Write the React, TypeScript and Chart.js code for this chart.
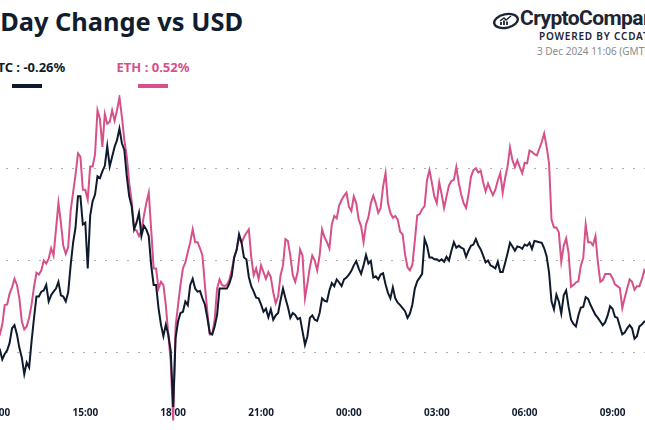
import React, { useEffect, useRef } from "react";
import { Chart, registerables } from "chart.js";

Chart.register(...registerables);

// Time axis: points every 5 minutes starting 11:10 (hours since 00:00 of day 1)
const startHour = 11 + 10 / 60;
const stepMinutes = 5;

// 1-day % change vs USD
const btcValues = [
  0.0, -0.14, -0.25, -0.36, -0.46, -0.57, -0.68, -0.63, -0.57, -0.65,
  -0.73, -0.71, -0.87, -0.78, -0.72, -0.6, -0.36, -0.31, -0.46, -0.68,
  -0.84, -1.11, -0.92, -1.0, -0.57, -0.19, 0.16, 0.16, 0.24, 0.26,
  0.35, 0.08, 0.18, 0.24, 0.29, 0.4, 0.18, 0.16, 0.08, 0.23,
  0.67, 1.04, 1.29, 1.8, 1.8, 1.34, 1.37, 0.62, 1.48, 1.72,
  1.83, 2.13, 2.1, 2.21, 2.3, 2.62, 2.29, 2.45, 2.61, 2.72,
  2.91, 2.67, 2.56, 2.13, 1.8, 1.64, 1.26, 1.37, 1.53, 1.15,
  1.32, 1.26, 1.15, 0.67, 0.35, 0.35, -0.03, -0.3, -0.49, -0.3,
  -0.46, -0.73, -1.65, -0.52, -0.25, -0.11, -0.09, 0.08, 0.02, 0.35,
  0.45, 0.29, 0.24, 0.25, 0.13, 0.03, -0.19, -0.44, -0.46, -0.33,
  -0.14, 0.29, 0.29, 0.29, 0.29, 0.37, 0.5, 0.8, 0.92, 1.18,
  1.05, 0.8, 0.77, 0.48, 0.33, 0.24, 0.14, 0.13, 0.03, -0.09,
  -0.04, -0.18, -0.05, -0.22, -0.15, -0.11, 0.1, 0.29, 0.13, -0.01,
  -0.19, -0.11, -0.14, -0.21, -0.19, -0.41, -0.63, -0.49, -0.19, -0.15,
  -0.22, -0.24, -0.11, 0.13, 0.09, 0.08, 0.26, 0.38, 0.33, 0.44,
  0.39, 0.33, 0.44, 0.47, 0.52, 0.58, 0.67, 0.74, 0.62, 0.53,
  0.67, 0.84, 0.7, 0.74, 0.47, 0.49, 0.44, 0.52, 0.54, 0.36,
  0.22, 0.13, 0.31, 0.13, 0.06, 0.02, -0.03, -0.08, -0.19, -0.12,
  0.03, 0.29, 0.41, 0.47, 0.53, 1.1, 0.99, 0.8, 0.8, 0.77,
  0.77, 0.74, 0.77, 0.73, 0.81, 0.75, 0.91, 1.05, 0.96, 0.99,
  0.96, 0.94, 0.81, 0.91, 0.99, 1.01, 1.1, 1.0, 0.93, 0.83,
  0.72, 0.75, 0.67, 0.65, 0.62, 0.73, 0.56, 0.56, 0.71, 0.87,
  1.04, 0.98, 0.91, 0.98, 0.97, 0.94, 1.01, 0.99, 1.04, 0.94,
  1.07, 1.06, 1.05, 1.04, 0.95, 0.82, 0.55, 0.08, -0.05, 0.19,
  0.08, -0.12, 0.18, 0.26, -0.01, -0.22, -0.29, -0.33, -0.15, -0.02,
  -0.01, 0.15, 0.12, 0.02, -0.06, -0.14, -0.19, -0.25, -0.31, -0.26,
  -0.15, 0.0, -0.04, -0.17, -0.19, -0.33, -0.46, -0.43, -0.36, -0.31,
  -0.36, -0.53, -0.49, -0.33, -0.3, -0.25, -0.25, -0.19, -0.19, -0.25,
  -0.28, -0.22, -0.25, -0.19, -0.22, -0.28, -0.25, -0.24, -0.26,
];

const ethValues = [
  0.0, -0.09, -0.14, -0.19, -0.25, -0.14, -0.19, -0.25, -0.3, -0.36,
  -0.41, -0.46, -0.3, 0.02, 0.03, 0.21, 0.31, 0.45, 0.35, 0.13,
  -0.25, -0.38, -0.33, -0.19, 0.03, 0.32, 0.55, 0.52, 0.59, 0.75,
  0.7, 0.78, 0.95, 0.83, 1.26, 1.69, 1.37, 0.99, 0.86, 0.97,
  1.56, 1.86, 2.15, 2.5, 2.45, 1.91, 1.91, 1.75, 2.29, 2.29,
  2.49, 3.21, 3.07, 2.61, 3.15, 2.99, 3.02, 3.21, 3.04, 3.21,
  3.42, 3.1, 2.72, 2.45, 2.02, 1.72, 1.26, 1.24, 1.15, 1.24,
  1.48, 1.69, 1.86, 1.26, 0.62, 0.62, 0.29, 0.4, 0.35, 0.02,
  -0.46, -0.9, -1.87, -0.33, 0.02, 0.35, 0.62, 0.72, 0.89, 1.05,
  1.26, 1.05, 1.05, 0.95, 0.83, 0.35, -0.09, -0.46, -0.46, -0.22,
  0.29, 0.44, 0.35, 0.33, 0.35, 0.43, 0.6, 0.8, 0.93, 1.13,
  1.04, 1.13, 1.2, 1.26, 0.8, 0.51, 0.62, 0.45, 0.67, 0.56,
  0.45, 0.56, 0.48, 0.23, 0.05, 0.16, 0.51, 0.67, 1.1, 1.07,
  0.83, 0.51, 0.4, 0.56, 0.93, 0.83, 0.13, 0.37, 0.64, 0.83,
  0.75, 0.59, 0.83, 1.26, 1.13, 1.05, 0.95, 1.34, 1.48, 1.44,
  1.65, 1.74, 1.81, 1.86, 1.63, 1.56, 1.8, 1.69, 1.42, 1.31,
  1.05, 1.34, 1.46, 1.69, 1.81, 1.69, 1.53, 1.61, 1.96, 2.18,
  1.69, 1.53, 1.45, 1.48, 1.42, 1.22, 1.18, 0.85, 0.64, 0.59,
  0.68, 1.07, 1.49, 1.51, 1.59, 1.64, 2.07, 2.23, 2.02, 1.8,
  1.69, 2.03, 1.83, 1.61, 1.8, 1.98, 2.05, 2.07, 2.28, 2.02,
  1.83, 1.69, 1.61, 1.83, 2.12, 2.23, 2.26, 2.19, 2.22, 2.03,
  1.88, 2.01, 1.91, 1.82, 1.91, 2.06, 2.18, 1.86, 2.1, 2.29,
  2.6, 2.39, 2.28, 2.39, 2.28, 2.18, 2.35, 2.34, 2.55, 2.53,
  2.49, 2.47, 2.58, 2.69, 2.83, 2.61, 2.34, 1.42, 1.29, 1.29,
  1.21, 0.73, 0.99, 1.11, 0.87, 0.32, 0.35, 0.39, 0.41, 0.66,
  0.79, 1.34, 1.05, 1.05, 1.0, 1.15, 0.72, 0.4, 0.43, 0.53,
  0.53, 0.53, 0.46, 0.36, 0.33, 0.3, -0.03, 0.14, 0.29, 0.44,
  0.4, 0.27, 0.33, 0.33, 0.44, 0.59, 0.51, 0.56, 0.56, 0.48,
  0.45, 0.51, 0.51, 0.56, 0.59, 0.53, 0.53, 0.51, 0.52,
];

const seriesNames = ["BTC", "ETH"];
const seriesChanges = ["-0.26%", "0.52%"];
const seriesColors = ["#0f1b2d", "#d6508a"];

const tickHours = [12, 15, 18, 21, 24, 27, 30, 33];
const tickLabels = ["12:00", "15:00", "18:00", "21:00", "00:00", "03:00", "06:00", "09:00"];
const gridValues = [-0.75, 0.75, 2.25];

const titleText = "1 Day Change vs USD";
const brandText = "CryptoCompare";
const poweredText = "POWERED BY CCDATA";
const stampText = "3 Dec 2024 11:06 (GMT)";

const FONT = "'Noto Sans', 'Open Sans', sans-serif";

function toPoints(values: number[]) {
  return values.map((v, i) => ({ x: startHour + (i * stepMinutes) / 60, y: v }));
}

export default function App() {
  const canvasRef = useRef<HTMLCanvasElement | null>(null);

  useEffect(() => {
    const canvas = canvasRef.current;
    if (!canvas) return;
    const chart = new Chart(canvas, {
      type: "line",
      data: {
        datasets: [
          {
            label: seriesNames[0],
            data: toPoints(btcValues),
            borderColor: seriesColors[0],
            borderWidth: 2,
            pointRadius: 0,
            tension: 0,
            clip: false,
          },
          {
            label: seriesNames[1],
            data: toPoints(ethValues),
            borderColor: seriesColors[1],
            borderWidth: 2,
            pointRadius: 0,
            tension: 0,
            clip: false,
          },
        ],
      },
      options: {
        animation: false,
        responsive: false,
        maintainAspectRatio: false,
        layout: { padding: 0 },
        plugins: { legend: { display: false }, tooltip: { enabled: false } },
        scales: {
          x: {
            type: "linear",
            min: startHour,
            max: startHour + 24,
            grid: { display: false, drawTicks: false },
            border: { display: false },
            afterBuildTicks: (s: any) => {
              s.ticks = tickHours.map((v) => ({ value: v }));
            },
            ticks: {
              autoSkip: false,
              maxRotation: 0,
              padding: 3,
              color: "#0f1b2d",
              font: { family: FONT, size: 10, weight: "bold" },
              callback: (v: any) => tickLabels[tickHours.indexOf(Number(v))] ?? "",
            },
          },
          y: {
            min: -1.6,
            max: 3.46,
            grid: { color: "#b0b0b0", lineWidth: 1, drawTicks: false },
            border: { display: false, dash: [2, 9] },
            ticks: { display: false },
            afterBuildTicks: (s: any) => {
              s.ticks = gridValues.map((v) => ({ value: v }));
            },
          },
        },
      },
    });
    return () => chart.destroy();
  }, []);

  return (
    <div
      style={{
        position: "fixed",
        left: 0,
        top: 0,
        width: 645,
        height: 430,
        overflow: "hidden",
        background: "#ffffff",
        fontFamily: FONT,
      }}
    >
      <div
        style={{
          position: "absolute",
          left: -21,
          top: 8.5,
          fontSize: 25.4,
          lineHeight: 1,
          fontWeight: 700,
          color: "#111c2e",
          whiteSpace: "nowrap",
        }}
      >
        {titleText}
      </div>

      {seriesNames.map((name, i) => {
        const center = i === 0 ? 27 : 153;
        return (
          <div key={name}>
            <div
              style={{
                position: "absolute",
                left: center - 60,
                width: 120,
                top: 61,
                textAlign: "center",
                fontSize: 13,
                lineHeight: 1,
                fontWeight: 700,
                color: seriesColors[i],
                whiteSpace: "nowrap",
              }}
            >
              {name + " : " + seriesChanges[i]}
            </div>
            <div
              style={{
                position: "absolute",
                left: center - 15,
                top: 84,
                width: 30,
                height: 4,
                background: seriesColors[i],
              }}
            />
          </div>
        );
      })}

      <svg
        style={{ position: "absolute", left: 492, top: 12, width: 28, height: 18 }}
        viewBox="0 0 28 18"
      >
        <ellipse
          cx="14"
          cy="9"
          rx="12"
          ry="6.8"
          transform="rotate(-12 14 9)"
          fill="none"
          stroke="#1d2433"
          strokeWidth="2.4"
        />
        <path d="M9 13 L9 10 M12 13 L12 8.5 M15 13 L15 9.5" stroke="#1d2433" strokeWidth="1.8" />
        <path d="M8 9 L12 6 L14 8 L19 4" stroke="#1d2433" strokeWidth="1.4" fill="none" />
      </svg>
      <div
        style={{
          position: "absolute",
          left: 520,
          top: 8,
          fontFamily: "Roboto, 'Noto Sans', sans-serif",
          fontSize: 21,
          lineHeight: 1,
          fontWeight: 700,
          color: "#1d2433",
          letterSpacing: -0.6,
          whiteSpace: "nowrap",
        }}
      >
        {brandText}
      </div>
      <div
        style={{
          position: "absolute",
          left: 539,
          top: 31,
          fontSize: 10,
          lineHeight: 1,
          fontWeight: 600,
          letterSpacing: 0.8,
          color: "#1d2433",
          whiteSpace: "nowrap",
        }}
      >
        {poweredText}
      </div>
      <div
        style={{
          position: "absolute",
          left: 537,
          top: 46,
          fontSize: 10,
          lineHeight: 1,
          color: "#8a8a8a",
          whiteSpace: "nowrap",
        }}
      >
        {stampText}
      </div>

      <div style={{ position: "absolute", left: -27, top: 95, width: 703, height: 327 }}>
        <canvas ref={canvasRef} width={703} height={327} style={{ width: 703, height: 327 }} />
      </div>
    </div>
  );
}
